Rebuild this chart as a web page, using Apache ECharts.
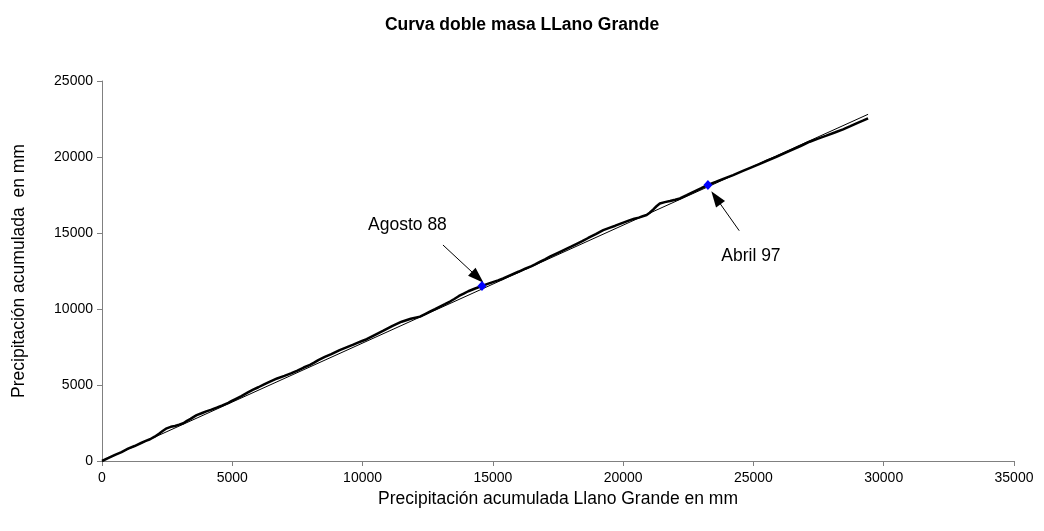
<!DOCTYPE html>
<html>
<head>
<meta charset="utf-8">
<script src="https://cdn.jsdelivr.net/npm/echarts@6/dist/echarts.min.js"></script>
<style>html,body{margin:0;padding:0;background:#fff}#c{width:1044px;height:531px}</style>
</head>
<body>
<div id="c"></div>
<script>
// Cumulative precipitation: Llano Grande (x) vs reference (y), mm
const massX = [0,250,500,750,1000,1250,1500,1680,1842,2020,2200,2340,2482,2640,2800,2960,3120,3260,3400,3520,3632,3820,4000,4200,4400,4620,4846,4980,5104,5350,5600,5800,6000,6220,6447,6720,7000,7250,7500,7740,7982,8140,8301,8550,8800,9120,9452,9620,9800,9980,10157,10480,10800,11150,11500,11850,12203,12400,12600,12780,12970,13160,13354,13520,13700,13880,14056,14320,14582,14800,15000,15200,15395,15700,16000,16240,16485,16640,16800,17000,17188,17500,17800,18000,18200,18430,18658,18950,19236,19470,19700,19980,20261,20430,20600,20750,20901,21020,21150,21280,21408,21600,21800,22000,22179,22440,22700,22980,23254,23550,23842,24220,24597,24900,25200,25540,25882,26200,26500,26830,27161,27480,27800,28120,28440,28720,29000,29200,29400];
const massY = [0,200,408,590,809,985,1184,1320,1429,1600,1806,1985,2150,2248,2304,2390,2486,2640,2770,2905,3015,3140,3268,3380,3513,3665,3826,3950,4059,4270,4509,4690,4852,5040,5219,5430,5596,5760,5951,6150,6324,6470,6637,6850,7038,7300,7530,7640,7768,7895,8012,8300,8576,8890,9165,9360,9500,9670,9841,9995,10161,10320,10492,10660,10858,11010,11168,11350,11513,11650,11769,11880,12009,12240,12466,12650,12822,12950,13099,13270,13439,13700,13941,14100,14271,14460,14672,14930,15186,15340,15480,15670,15850,15940,16014,16100,16182,16330,16540,16760,16937,17030,17109,17190,17273,17490,17710,17930,18158,18360,18563,18810,19082,19300,19517,19770,20013,20250,20480,20740,21005,21210,21402,21610,21821,22030,22248,22390,22546];
// Straight reference line
const trendX = [0, 29400];
const trendY = [0, 22809];
// Marked dates
const markNames = ['Agosto 88', 'Abril 97'];
const markX = [14582, 23254];
const markY = [11513, 18158];
// Annotation text anchor points and arrows (data units)
const labelX = [11722, 24904];
const labelY = [15526, 13454];
const arrowFrom = [[13085, 14211], [24455, 15151]];
const arrowTo = [[14417, 12086], [23561, 17322]];
// Axis ticks
const xTicks = [0,5000,10000,15000,20000,25000,30000,35000];
const yTicks = [0,5000,10000,15000,20000,25000];

const font = '"Liberation Sans", Arial, sans-serif';
const chart = echarts.init(document.getElementById('c'), null, {renderer: 'canvas'});
const axisCommon = {
  axisLine: {show: true, lineStyle: {color: '#808080', width: 1}},
  axisTick: {show: true, length: 5, lineStyle: {color: '#808080'}},
  splitLine: {show: false},
  nameTextStyle: {color: '#000', fontFamily: font, fontSize: 17.5}
};
const tickLabel = (margin) => ({color: '#000', fontFamily: font, fontSize: 14, margin: margin, formatter: v => String(v)});
chart.setOption({
  animation: false,
  backgroundColor: '#fff',
  title: {
    text: 'Curva doble masa LLano Grande',
    left: 'center', top: 11,
    textStyle: {fontFamily: font, fontSize: 17.5, fontWeight: 'bold', color: '#000'}
  },
  grid: {left: 102, right: 30, top: 81, bottom: 70},
  xAxis: Object.assign({
    type: 'value', min: xTicks[0], max: xTicks[xTicks.length - 1], interval: xTicks[1] - xTicks[0],
    name: 'Precipitación acumulada Llano Grande en mm', nameLocation: 'middle', nameGap: 23,
    axisLabel: tickLabel(10)
  }, axisCommon),
  yAxis: Object.assign({
    type: 'value', min: yTicks[0], max: yTicks[yTicks.length - 1], interval: yTicks[1] - yTicks[0],
    name: 'Precipitación acumulada  en mm', nameLocation: 'middle', nameGap: 74,
    axisLabel: tickLabel(9)
  }, axisCommon),
  series: [
    {
      type: 'line', data: trendX.map((x, i) => [x, trendY[i]]),
      showSymbol: false, lineStyle: {color: '#000', width: 1}, z: 2
    },
    {
      type: 'line', data: massX.map((x, i) => [x, massY[i]]),
      showSymbol: false, lineStyle: {color: '#000', width: 2.5}, z: 3
    },
    {
      type: 'scatter', data: markX.map((x, i) => [x, markY[i]]),
      symbol: 'diamond', symbolSize: [9, 10], itemStyle: {color: '#0000ff', opacity: 1}, z: 5
    },
    {
      type: 'scatter', symbolSize: 0, z: 6,
      itemStyle: {opacity: 1},
      data: labelX.map((x, i) => ({value: [x, labelY[i]], name: markNames[i]})),
      label: {show: true, position: 'inside', formatter: p => p.name, color: '#000', fontFamily: font, fontSize: 17.5},
      markLine: {
        silent: true, symbol: ['none', 'triangle'], symbolSize: [11, 16],
        label: {show: false},
        lineStyle: {color: '#000', width: 1, type: 'solid', opacity: 1},
        itemStyle: {color: '#000', opacity: 1},
        data: arrowFrom.map((f, i) => [{coord: f}, {coord: arrowTo[i]}])
      }
    }
  ]
});
</script>
</body>
</html>
